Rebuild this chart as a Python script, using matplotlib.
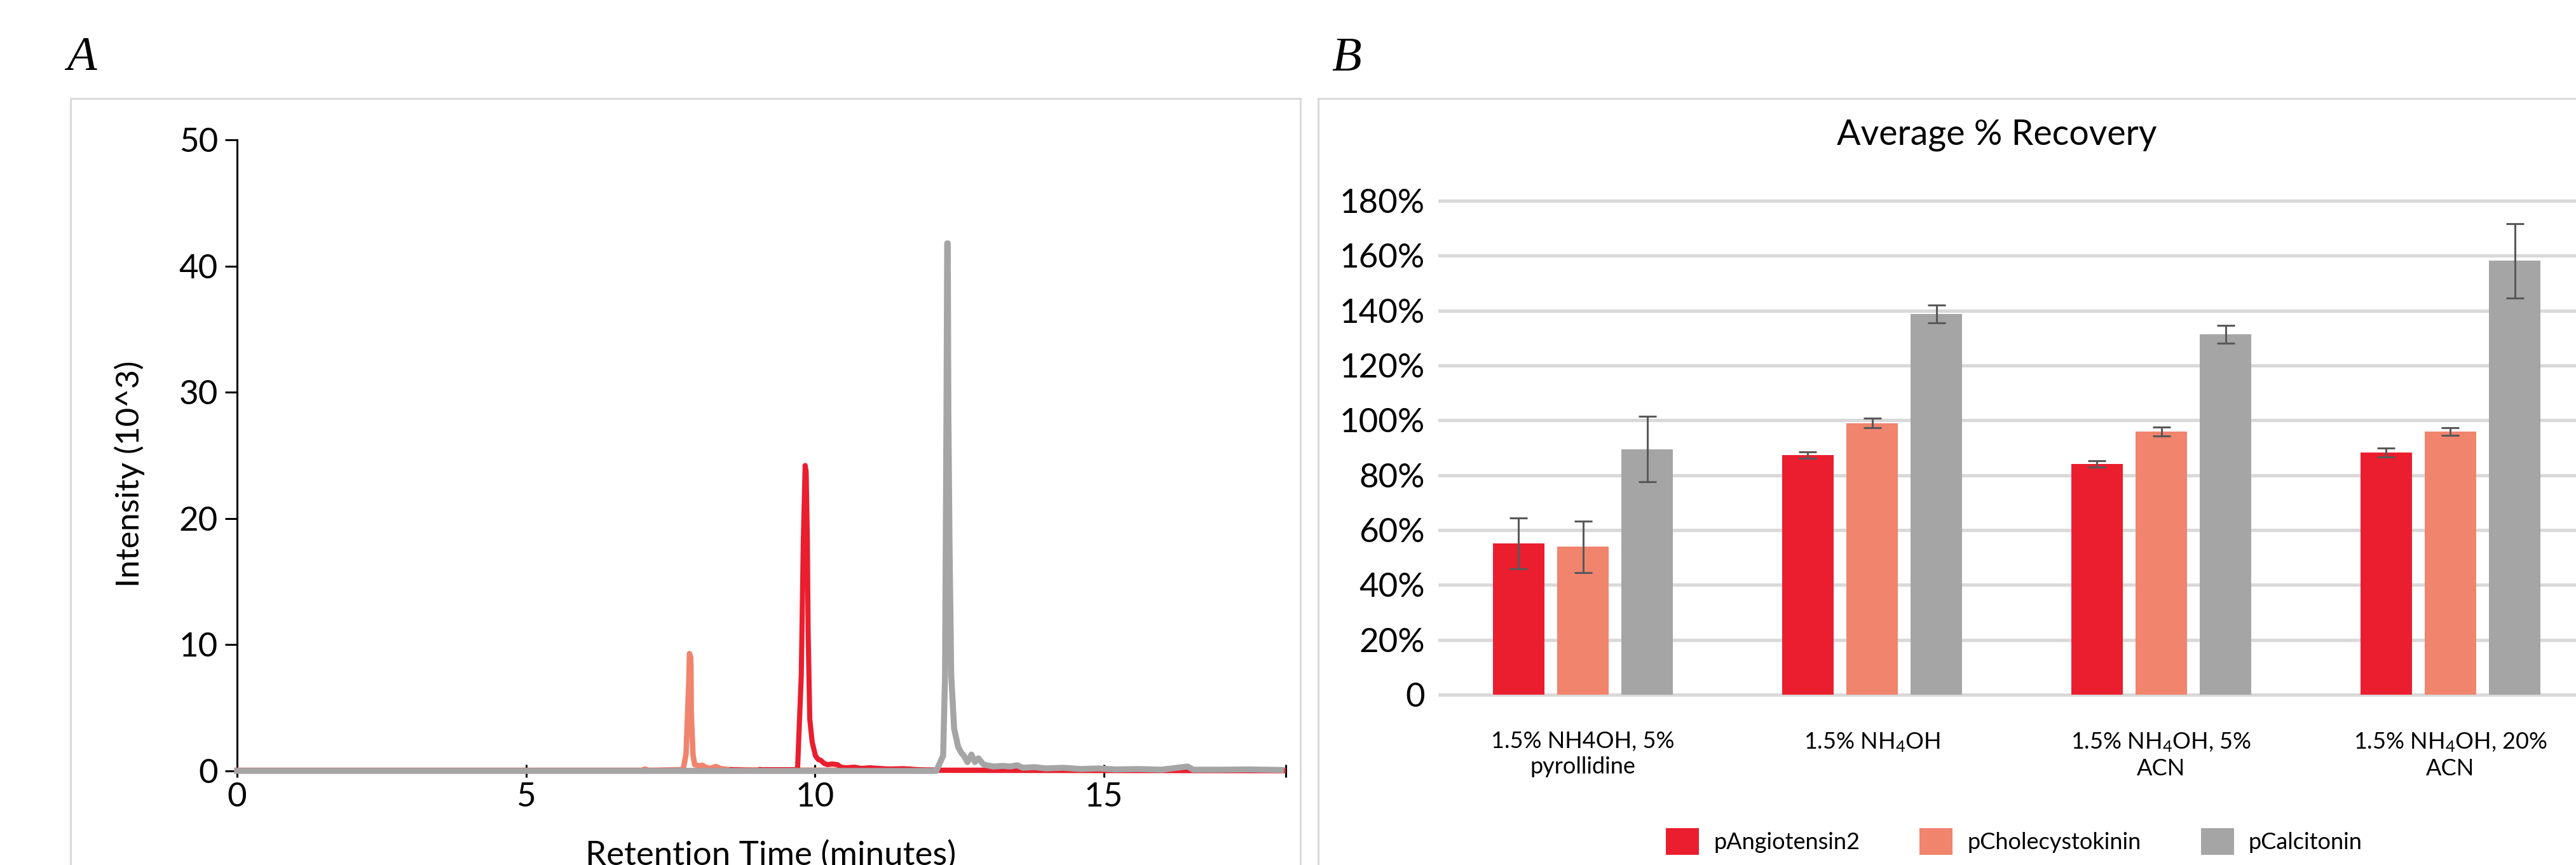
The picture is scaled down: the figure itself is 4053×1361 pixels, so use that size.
import matplotlib
matplotlib.use("Agg")
import matplotlib.pyplot as plt
from matplotlib.patches import Patch, Rectangle
import numpy as np

# ---------------- data ----------------
# Panel A: chromatogram traces (time in minutes, intensity in 10^3)
salmon_t = [0.0, 7.00, 7.06, 7.12, 7.72, 7.77, 7.82, 7.83, 7.85, 7.855, 7.86, 7.89, 7.92,
            8.00, 8.05, 8.11, 8.18, 8.29, 8.36, 8.47, 8.58, 9.00, 9.05, 9.10, 18.1]
salmon_i = [0.05, 0.05, 0.15, 0.05, 0.10, 1.3, 7.2, 9.3, 9.0, 8.3, 4.7, 1.3, 0.5,
            0.40, 0.45, 0.30, 0.20, 0.35, 0.20, 0.12, 0.10, 0.08, 0.12, 0.06, 0.05]

red_t = [0.0, 8.50, 8.55, 9.00, 9.05, 9.70, 9.765, 9.80, 9.832, 9.849, 9.87, 9.883, 9.912,
         9.953, 10.01, 10.06, 10.10, 10.16, 10.22, 10.30, 10.39, 10.45, 10.55, 10.68, 10.80,
         10.95, 11.10, 11.30, 11.53, 11.80, 12.20, 18.1]
red_i = [0.02, 0.02, 0.10, 0.02, 0.10, 0.10, 7.6, 18.2, 24.2, 23.7, 18.2, 11.1, 4.1,
         2.3, 1.2, 0.9, 0.85, 0.6, 0.5, 0.55, 0.5, 0.3, 0.25, 0.3, 0.2,
         0.25, 0.2, 0.15, 0.18, 0.1, 0.05, 0.02]

gray_t = [0.0, 12.10, 12.22, 12.253, 12.278, 12.29, 12.30, 12.31, 12.33, 12.36, 12.41, 12.48,
          12.54, 12.58, 12.64, 12.71, 12.77, 12.83, 12.92, 13.09, 13.25, 13.38, 13.50, 13.60,
          13.80, 14.00, 14.30, 14.60, 14.90, 15.20, 15.60, 16.00, 16.45, 16.55, 17.00, 17.50, 18.07]
gray_i = [0.0, 0.0, 1.2, 7.6, 28.8, 41.8, 41.8, 28.8, 18.2, 7.6, 3.35, 1.9,
          1.4, 1.2, 0.7, 1.3, 0.7, 1.0, 0.5, 0.35, 0.4, 0.35, 0.45, 0.25,
          0.3, 0.2, 0.25, 0.15, 0.2, 0.12, 0.15, 0.1, 0.35, 0.1, 0.1, 0.12, 0.08]

x_ticks_a = [0, 5, 10, 15]
y_ticks_a = [0, 10, 20, 30, 40, 50]

# Panel B: average % recovery
categories = ["1.5% NH4OH, 5%\npyrollidine",
              "1.5% NH$_4$OH",
              "1.5% NH$_4$OH, 5%\nACN",
              "1.5% NH$_4$OH, 20%\nACN"]
series_names = ["pAngiotensin2", "pCholecystokinin", "pCalcitonin"]
angiotensin = [0.551, 0.873, 0.841, 0.883]
angiotensin_err = [0.093, 0.012, 0.011, 0.017]
cholecystokinin = [0.539, 0.990, 0.959, 0.959]
cholecystokinin_err = [0.093, 0.017, 0.017, 0.013]
calcitonin = [0.895, 1.388, 1.313, 1.581]
calcitonin_err = [0.120, 0.032, 0.033, 0.135]
y_ticks_b = [0, 0.2, 0.4, 0.6, 0.8, 1.0, 1.2, 1.4, 1.6, 1.8]

# ---------------- style ----------------
plt.rcParams['font.family'] = ['Lato', 'DejaVu Sans']
plt.rcParams['mathtext.default'] = 'regular'

RED = '#EA1E2E'
SALMON = '#F0846D'
GRAY = '#A5A5A5'
GRID = '#D9D9D9'
ERR = '#595959'

W, H, DPI = 4053, 1361, 100
fig = plt.figure(figsize=(W / DPI, H / DPI), dpi=DPI)


def fx(px):
    return px / W


def fy(py):
    return 1 - py / H


# panel frames
fig.add_artist(Rectangle((fx(111), -0.2), fx(2046) - fx(111), fy(155) + 0.2,
                         transform=fig.transFigure, fill=False, ec=GRID, lw=2.2))
fig.add_artist(Rectangle((fx(2074), -0.2), 0.6, fy(155) + 0.2,
                         transform=fig.transFigure, fill=False, ec=GRID, lw=2.2))

# panel letters
fig.text(fx(105), fy(110), "A", family=['Liberation Serif', 'DejaVu Serif'], style='italic',
         fontsize=55, va='baseline', ha='left')
fig.text(fx(2095), fy(111), "B", family=['Liberation Serif', 'DejaVu Serif'], style='italic',
         fontsize=55, va='baseline', ha='left')

# ---------------- Panel A ----------------
ax1 = fig.add_axes([fx(373), fy(1213), (2023 - 373) / W, (1213 - 220) / H])
ax1.plot(salmon_t, salmon_i, color=SALMON, lw=6.2, zorder=3, clip_on=False)
ax1.plot(red_t, red_i, color=RED, lw=5.8, zorder=4, clip_on=False)
ax1.plot(gray_t, gray_i, color=GRAY, lw=6.8, zorder=5, clip_on=False)
ax1.set_xlim(0, 18.15)
ax1.set_ylim(0, 50)
ax1.set_xticks(x_ticks_a)
ax1.set_yticks(y_ticks_a)
ax1.set_xticks([18.15], minor=True)
ax1.set_yticks([50], minor=True)
for s in ['top', 'right']:
    ax1.spines[s].set_visible(False)
for s in ['left', 'bottom']:
    ax1.spines[s].set_linewidth(2.2)
    ax1.spines[s].set_color('black')
ax1.tick_params(axis='y', which='major', direction='out', length=13.5, width=2.2,
                labelsize=38, pad=8)
ax1.tick_params(axis='y', which='minor', direction='in', length=9, width=2.2)
ax1.tick_params(axis='x', which='both', direction='inout', length=14.5, width=2.2,
                labelsize=38, pad=6)
fig.text(fx(204), fy(746), "Intensity (10^3)", rotation=90, ha='center', va='center',
         fontsize=37)
fig.text(fx(1213), fy(1322), "Retention Time (minutes)", ha='center', va='top', fontsize=38)

# ---------------- Panel B ----------------
ax2 = fig.add_axes([fx(2263), fy(1106), 1820 / W, (1106 - 303) / H])
x = np.arange(len(categories))
bw = 0.18
off = 0.222
ax2.bar(x - off, angiotensin, bw, color=RED, zorder=3)
ax2.bar(x, cholecystokinin, bw, color=SALMON, zorder=3)
ax2.bar(x + off, calcitonin, bw, color=GRAY, zorder=3)
for xs, v, e in [(x - off, angiotensin, angiotensin_err),
                 (x, cholecystokinin, cholecystokinin_err),
                 (x + off, calcitonin, calcitonin_err)]:
    ax2.errorbar(xs, v, yerr=e, fmt='none', ecolor=ERR, elinewidth=2.2,
                 capsize=10, capthick=2.2, zorder=4)
ax2.set_xlim(-0.5, 3.5)
ax2.set_ylim(-0.03, 1.83)
ax2.set_yticks(y_ticks_b)
ax2.set_yticklabels(['0' if v == 0 else f"{int(round(v * 100))}%" for v in y_ticks_b])
ax2.yaxis.grid(True, color=GRID, lw=3.8, zorder=0)
ax2.set_axisbelow(True)
for s in ax2.spines.values():
    s.set_visible(False)
ax2.tick_params(axis='y', length=0, labelsize=38, pad=15)
ax2.set_xticks(x)
ax2.set_xticklabels(categories, fontsize=26, linespacing=1.25)
ax2.tick_params(axis='x', length=0, pad=32)

fig.text(fx(3142), fy(212), "Average % Recovery", ha='center', va='center', fontsize=40)

handles = [Patch(facecolor=c, edgecolor='none') for c in (RED, SALMON, GRAY)]
fig.legend(handles, series_names, loc='center', bbox_to_anchor=(fx(3169), fy(1324)),
           ncol=3, frameon=False, fontsize=26, handlelength=1.44, handleheight=1.44,
           handletextpad=0.64, columnspacing=2.6, borderpad=0, borderaxespad=0)

fig.savefig("out.png", dpi=DPI)
